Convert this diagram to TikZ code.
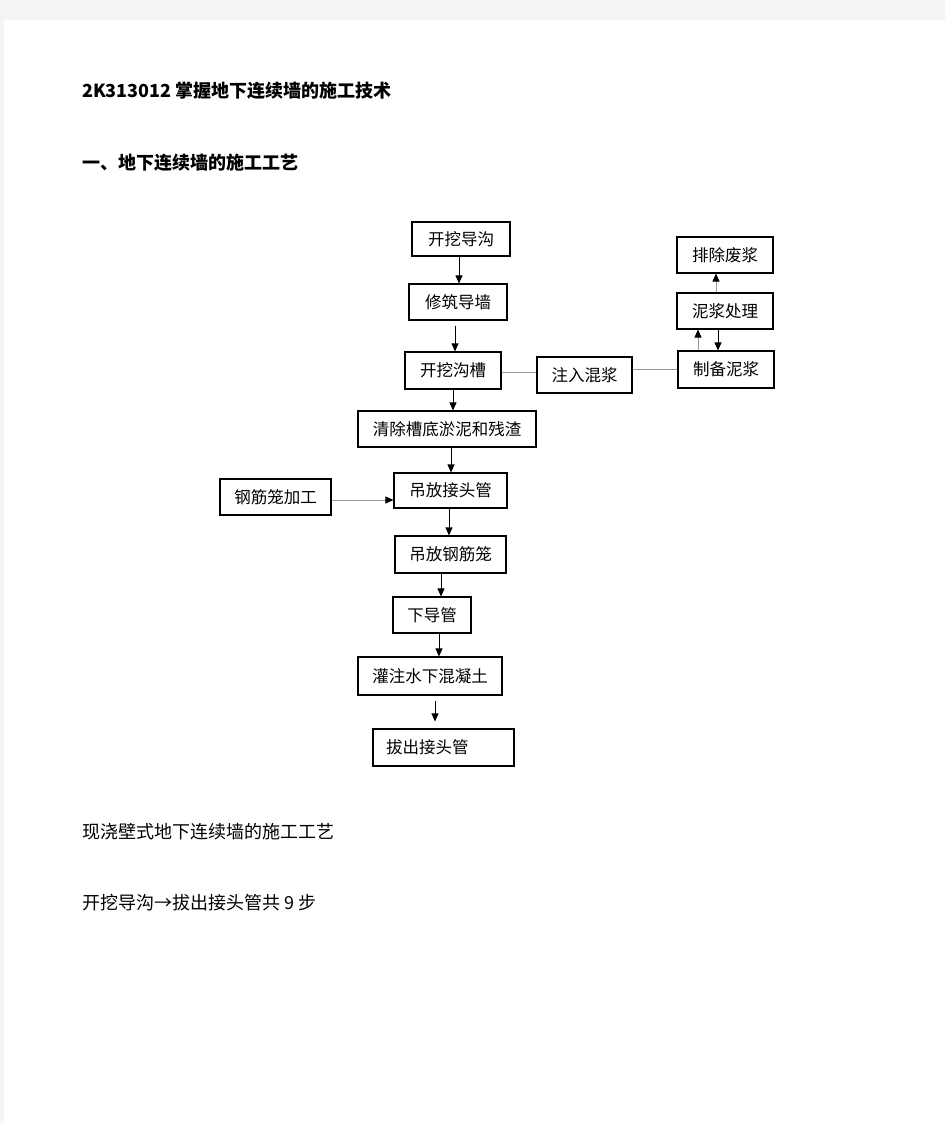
\documentclass[tikz,border=0pt]{standalone}
\usepackage{fontspec}
\newfontfamily\cjk{Noto Sans CJK SC}
\usetikzlibrary{arrows.meta}
\definecolor{pagegray}{HTML}{F4F4F4}
\definecolor{linegray}{HTML}{9A9A9A}
\begin{document}
\begin{tikzpicture}[x=1pt,y=-1pt,
  flowbox/.style={draw, line width=1.1pt, inner sep=0pt, font=\cjk\fontsize{16.5}{16.5}\selectfont},
  plaintext/.style={anchor=west, inner sep=0pt, font=\cjk\fontsize{18}{18}\selectfont},
  headtext/.style={anchor=west, inner sep=0pt, font=\cjk\bfseries\fontsize{18}{18}\selectfont},
  arr/.style={line width=0.8pt, -{Triangle[length=8pt,width=7pt]}},
  garr/.style={line width=0.8pt, draw=linegray, arrows={-{Triangle[length=8pt,width=7pt,color=black]}}},
  gline/.style={line width=0.8pt, draw=linegray}
]
\useasboundingbox (0,0) rectangle (945,1123);
\fill[pagegray] (0,0) rectangle (945,1123);
\fill[white] (4,20) rectangle (945,1123);

% texts
\node[headtext] (t1) at (82,91) {2K313012 掌握地下连续墙的施工技术};
\node[headtext] (t2) at (82,163) {一、地下连续墙的施工工艺};
\node[plaintext] (t3) at (82,832) {现浇壁式地下连续墙的施工工艺};
\node[plaintext] (t4) at (82,903) {开挖导沟→拔出接头管共 9 步};

% main chain
\node[flowbox, minimum width=98pt, minimum height=34pt] (k1) at (461,239) {开挖导沟};
\node[flowbox, minimum width=98pt, minimum height=36pt] (k2) at (458,302) {修筑导墙};
\node[flowbox, minimum width=96pt, minimum height=37pt] (k3) at (453,370.5) {开挖沟槽};
\node[flowbox, minimum width=178pt, minimum height=36pt] (k4) at (447,429) {清除槽底淤泥和残渣};
\node[flowbox, minimum width=113pt, minimum height=35pt] (k5) at (450.5,490.5) {吊放接头管};
\node[flowbox, minimum width=111pt, minimum height=37pt] (k6) at (450.5,554.5) {吊放钢筋笼};
\node[flowbox, minimum width=78pt, minimum height=36pt] (k7) at (432,615) {下导管};
\node[flowbox, minimum width=144pt, minimum height=38pt] (k8) at (430,676) {灌注水下混凝土};
\node[flowbox, minimum height=37pt, text width=115pt, inner xsep=13pt, align=left] (k9) at (443.5,747.5) {拔出接头管};
\coordinate (e9) at ([yshift=7pt]k9.north);

% side boxes
\node[flowbox, minimum width=95pt, minimum height=36pt] (s1) at (584.5,375) {注入混浆};
\node[flowbox, minimum width=96pt, minimum height=37pt] (s2) at (726,369.5) {制备泥浆};
\node[flowbox, minimum width=96pt, minimum height=36pt] (s3) at (725,311) {泥浆处理};
\node[flowbox, minimum width=96pt, minimum height=36pt] (s4) at (725,255) {排除废浆};
\node[flowbox, minimum width=111pt, minimum height=36pt] (g) at (275.5,497) {钢筋笼加工};

% main arrows
\draw[arr] ([xshift=-2pt]k1.south) -- ([xshift=-2pt]k1.south |- k2.north);
\draw[arr] ([xshift=-3pt,yshift=-5pt]k2.south) -- ([xshift=-3pt]k2.south |- k3.north);
\draw[arr] ([xshift=0pt]k3.south) -- ([xshift=0pt]k3.south |- k4.north);
\draw[arr] ([xshift=4pt]k4.south) -- ([xshift=4pt]k4.south |- k5.north);
\draw[arr] ([xshift=-1.5pt]k5.south) -- ([xshift=-1.5pt]k5.south |- k6.north);
\draw[arr] ([xshift=-9.5pt]k6.south) -- ([xshift=-9.5pt]k6.south |- k7.north);
\draw[arr] ([xshift=7pt]k7.south) -- ([xshift=7pt]k7.south |- k8.north);
\draw[arr] ([xshift=5pt,yshift=-5pt]k8.south) -- ([xshift=5pt]k8.south |- e9);

% slurry connections
\draw[gline] ([yshift=-1.5pt]k3.east) -- ([yshift=-1.5pt]k3.east -| s1.west);
\draw[gline] (s1.east |- s2.west) -- (s2.west);
\draw[garr] ([xshift=-28pt]s2.north) -- ([xshift=-28pt]s2.north |- s3.south);
\draw[arr] ([xshift=-7pt]s3.south) -- ([xshift=-7pt]s3.south |- s2.north);
\draw[garr] ([xshift=-9pt]s3.north) -- ([xshift=-9pt]s3.north |- s4.south);

% cage
\draw[garr] ([yshift=-3pt]g.east) -- ([yshift=-3pt]g.east -| k5.west);
\end{tikzpicture}
\end{document}
